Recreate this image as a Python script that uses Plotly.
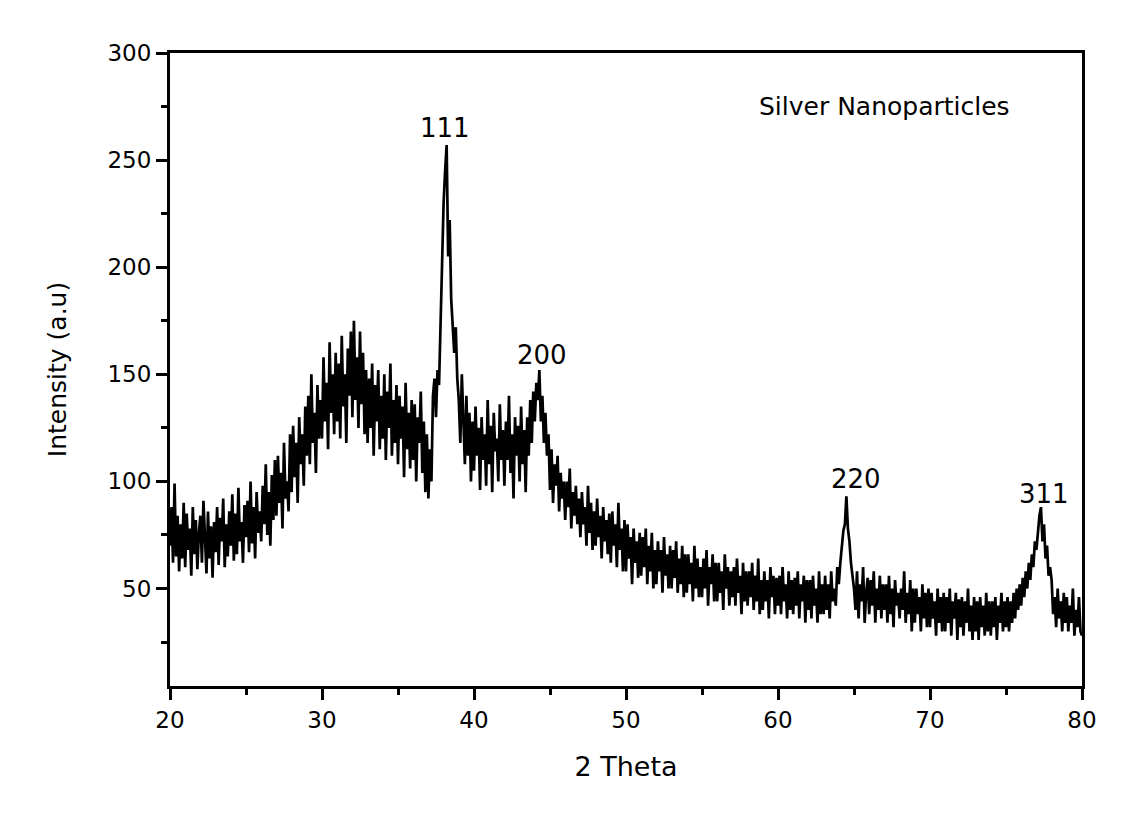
import plotly.graph_objects as go

# 2-theta sampling grid (degrees)
two_theta_start = 20.0
two_theta_step = 0.1

intensity = [
    70, 88, 62, 99, 65, 84, 58, 80, 64, 90,        # 20
    60, 85, 68, 78, 56, 88, 66, 82, 59, 76,        # 21
    84, 62, 91, 70, 57, 86, 64, 79, 55, 81,        # 22
    67, 88, 61, 83, 72, 92, 60, 80, 65, 86,        # 23
    70, 94, 63, 85, 66, 97, 72, 81, 62, 89,        # 24
    74, 91, 67, 100, 71, 88, 64, 95, 76, 86,       # 25
    72, 98, 80, 108, 75, 95, 70, 103, 82, 110,     # 26
    84, 112, 90, 104, 78, 118, 92, 100, 86, 122,   # 27
    95, 126, 102, 118, 90, 130, 108, 122, 98, 135, # 28
    112, 140, 108, 150, 118, 132, 104, 145, 120, 138,  # 29
    120, 158, 128, 146, 115, 165, 132, 150, 122, 160,  # 30
    128, 155, 120, 168, 135, 150, 118, 162, 140, 170,  # 31
    130, 175, 138, 158, 125, 170, 136, 160, 122, 152,  # 32
    118, 148, 125, 155, 112, 145, 128, 152, 115, 140,  # 33
    120, 150, 110, 142, 125, 155, 112, 138, 118, 145,  # 34
    108, 140, 120, 135, 102, 146, 115, 132, 106, 138,  # 35
    110, 136, 100, 130, 118, 142, 104, 128, 95, 122,   # 36
    92, 115, 100, 140, 148, 130, 152, 145, 175, 198,   # 37
    230, 245, 257, 205, 222, 185, 170, 160, 172, 148,  # 38
    138, 118, 150, 125, 108, 140, 112, 132, 100, 128,  # 39
    105, 135, 112, 125, 96, 130, 110, 122, 98, 138,    # 40
    108, 126, 95, 132, 114, 120, 100, 136, 110, 124,   # 41
    98, 128, 110, 140, 104, 122, 92, 130, 112, 126,    # 42
    100, 135, 108, 124, 95, 130, 112, 138, 118, 142,   # 43
    128, 146, 138, 152, 128, 140, 118, 132, 112, 122,  # 44
    96, 115, 90, 108, 98, 112, 86, 104, 92, 100,   # 45
    82, 100, 88, 106, 78, 95, 84, 98, 80, 92,      # 46
    74, 95, 80, 88, 70, 98, 76, 90, 68, 86,        # 47
    70, 92, 74, 84, 64, 88, 72, 82, 66, 85,        # 48
    62, 86, 70, 80, 60, 90, 68, 78, 58, 82,        # 49
    58, 80, 64, 74, 52, 78, 62, 72, 55, 76,        # 50
    56, 74, 60, 78, 52, 70, 58, 76, 50, 68,        # 51
    52, 72, 58, 68, 48, 74, 56, 66, 50, 70,        # 52
    50, 68, 55, 72, 48, 64, 52, 70, 46, 66,        # 53
    48, 66, 52, 62, 44, 70, 50, 64, 46, 60,        # 54
    46, 64, 50, 68, 42, 60, 52, 66, 44, 62,        # 55
    44, 62, 48, 58, 40, 66, 50, 60, 42, 58,        # 56
    46, 60, 42, 64, 48, 56, 38, 62, 44, 58,        # 57
    42, 58, 46, 62, 40, 56, 44, 64, 38, 54,        # 58
    40, 58, 44, 54, 36, 60, 46, 56, 38, 55,        # 59
    42, 56, 38, 60, 44, 52, 36, 58, 40, 54,        # 60
    38, 55, 42, 58, 36, 52, 44, 56, 34, 54,        # 61
    40, 54, 36, 56, 42, 50, 34, 58, 38, 52,        # 62
    38, 56, 40, 52, 36, 58, 44, 50, 42, 60,        # 63
    52, 62, 70, 77, 80, 93, 78, 72, 62, 56,        # 64
    50, 40, 58, 36, 52, 44, 60, 34, 48, 55,        # 65
    38, 54, 42, 58, 34, 50, 40, 56, 36, 52,        # 66
    40, 52, 34, 56, 38, 50, 32, 54, 42, 48,        # 67
    36, 50, 40, 58, 34, 48, 38, 54, 30, 50,        # 68
    34, 50, 38, 46, 30, 52, 36, 48, 32, 50,        # 69
    32, 48, 36, 44, 28, 50, 34, 46, 30, 48,        # 70
    30, 46, 34, 50, 28, 44, 36, 48, 26, 45,        # 71
    32, 46, 28, 44, 34, 50, 30, 42, 26, 46,        # 72
    30, 44, 26, 46, 32, 42, 28, 48, 30, 44,        # 73
    28, 44, 32, 46, 26, 42, 34, 48, 30, 44,        # 74
    32, 46, 30, 44, 34, 48, 36, 50, 40, 52,        # 75
    42, 55, 46, 58, 50, 62, 54, 66, 60, 72,        # 76
    68, 76, 84, 88, 72, 80, 64, 70, 56, 60,        # 77
    54, 38, 46, 32, 50, 36, 44, 30, 48, 34,        # 78
    46, 30, 42, 34, 50, 28, 40, 32, 46, 30,        # 79
    28,                                            # 80
]

two_theta = [round(two_theta_start + i * two_theta_step, 1) for i in range(len(intensity))]

# Peak (hkl) labels and where they sit
peak_labels = ["111", "200", "220", "311"]
peak_label_x = [38.1, 44.5, 65.1, 77.5]
peak_label_y = [265, 159, 101, 94]

sample_name = "Silver Nanoparticles"

x_ticks = [20, 30, 40, 50, 60, 70, 80]
y_ticks = [50, 100, 150, 200, 250, 300]

FONT = "DejaVu Sans, Liberation Sans, Arial, sans-serif"

fig = go.Figure()
fig.add_trace(go.Scatter(
    x=two_theta, y=intensity, mode="lines",
    line=dict(color="black", width=2.7),
    showlegend=False, hoverinfo="x+y",
))

annotations = []
for lab, xx, yy in zip(peak_labels, peak_label_x, peak_label_y):
    annotations.append(dict(x=xx, y=yy, xref="x", yref="y", text=lab,
                            showarrow=False, font=dict(size=26, color="black", family=FONT)))
annotations.append(dict(x=67.0, y=275, xref="x", yref="y", text=sample_name,
                        showarrow=False, font=dict(size=25, color="black", family=FONT)))

axis_common = dict(
    showline=True, linewidth=3, linecolor="black", mirror=True,
    ticks="outside", ticklen=11, tickwidth=2.5, tickcolor="black",
    showgrid=False, zeroline=False,
    tickfont=dict(size=23, color="black", family=FONT),
)

fig.update_layout(
    width=1124, height=814,
    margin=dict(l=170, r=42, t=53, b=128),
    paper_bgcolor="white", plot_bgcolor="white",
    font=dict(family=FONT, color="black"),
    annotations=annotations,
    xaxis=dict(
        range=[20, 80], tickvals=x_ticks,
        minor=dict(ticks="outside", ticklen=6, tickwidth=2.5, tickcolor="black",
                   tickvals=[25, 35, 45, 55, 65, 75], showgrid=False),
        title=dict(text="2 Theta", font=dict(size=27, color="black", family=FONT), standoff=26),
        **axis_common,
    ),
    yaxis=dict(
        range=[4.5, 300], tickvals=y_ticks,
        minor=dict(ticks="outside", ticklen=6, tickwidth=2.5, tickcolor="black",
                   tickvals=[25, 75, 125, 175, 225, 275], showgrid=False),
        title=dict(text="Intensity (a.u)", font=dict(size=25, color="black", family=FONT), standoff=34),
        **axis_common,
    ),
)

fig.write_html("out.html")
